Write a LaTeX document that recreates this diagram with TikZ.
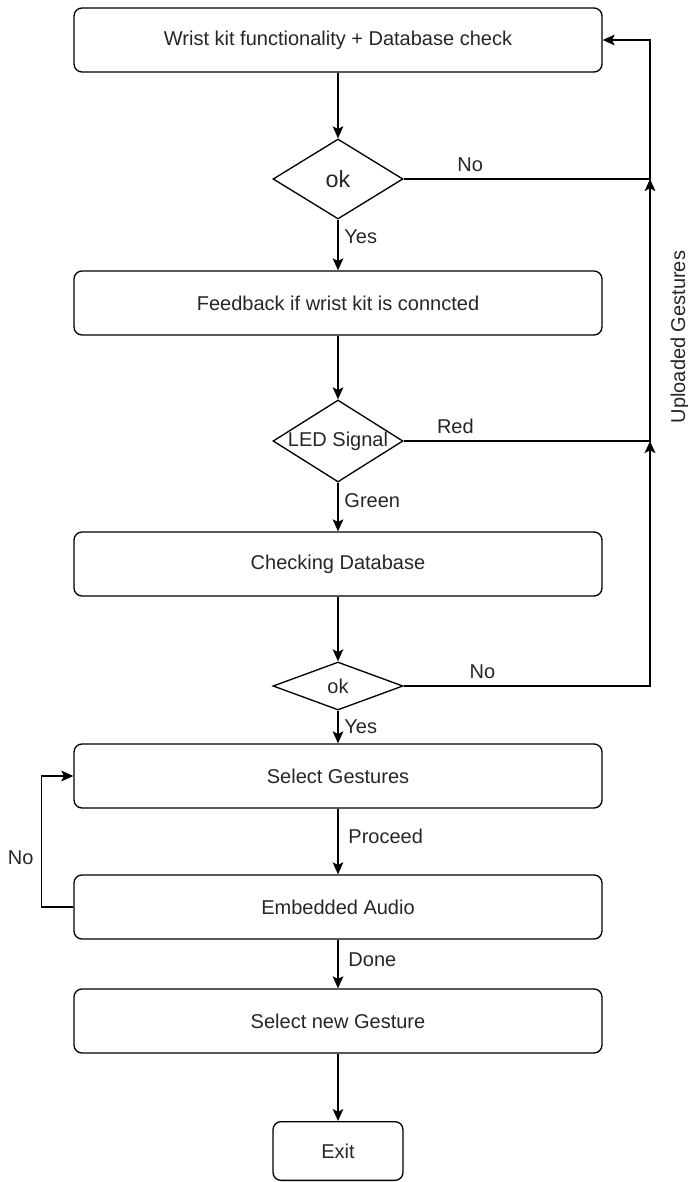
\documentclass[tikz,border=0pt]{standalone}
\usepackage{fontspec}
\setmainfont{Liberation Sans}
\usetikzlibrary{shapes.geometric,arrows.meta}

\begin{document}
\begin{tikzpicture}[x=0.75pt,y=-0.75pt,
  font=\fontsize{15}{18}\selectfont, text=black!85,
  box/.style={draw,line width=1pt,rounded corners=6pt,inner sep=0pt,
              minimum width=396pt,minimum height=48pt,align=center},
  dia/.style={draw,diamond,line width=1pt,inner sep=0pt,
              minimum width=97.5pt,minimum height=60pt},
  every label/.style={font=\fontsize{15}{18}\selectfont,text=black!85},
  arr/.style={-{Stealth[length=9pt,width=8pt,inset=2pt]},line width=1pt}]
  \useasboundingbox (0,0) rectangle (688,1182);
  \node[box] (chk) at (338,40)  {Wrist kit functionality + Database check};
  \node[dia,label={[font=\fontsize{17.5}{20}\selectfont]center:ok}] (ok1) at (338,179) {};
  \node[box] (fb)  at (338,303) {Feedback if wrist kit is conncted};
  \node[dia,minimum height=61.5pt,label=center:LED Signal] (led) at (338,441) {};
  \node[box] (db)  at (338,564) {Checking Database};
  \node[dia,minimum height=36pt,label=center:ok] (ok2) at (338,686) {};
  \node[box] (sel) at (338,776) {Select Gestures};
  \node[box] (aud) at (338,907) {Embedded Audio};
  \node[box] (new) at (338,1021) {Select new Gesture};
  \node[box,minimum width=97.5pt,minimum height=44pt] (exit) at (338,1151) {Exit};
  % return line on the right
  \coordinate (j1) at (650,179);
  \coordinate (j2) at (650,441);
  \node[rotate=90] (upl) at (680,337) {Uploaded Gestures};
  % main flow
  \draw[arr] (chk) -- (ok1);
  \draw[arr] (ok1) -- (fb) node[pos=.33,right=1pt] {Yes};
  \draw[arr] (fb) -- (led);
  \draw[arr] (led) -- (db) node[pos=.36,right=1pt] {Green};
  \draw[arr] (db) -- (ok2);
  \draw[arr] (ok2) -- (sel) node[pos=.48,right=1pt] {Yes};
  \draw[arr] (sel) -- (aud) node[pos=.42,right=4pt] {Proceed};
  \draw[arr] (aud) -- (new) node[pos=.42,right=4pt] {Done};
  \draw[arr] (new) -- (exit);
  % back to the top
  \draw[arr] (ok2.east) -- node[pos=.32,above=2pt] {No} (ok2.east -| j2) -- (j2);
  \draw[arr] (led.east) -- node[pos=.21,above=2pt] {Red} (j2) -- (j1);
  \draw[arr] (ok1.east) -- node[pos=.27,above=2pt] {No} (j1) |- (chk.east);
  \draw[arr] (aud.west) -- ++(-32,0) |- node[pos=.19,left=2pt] {No} (sel.west);
\end{tikzpicture}
\end{document}
